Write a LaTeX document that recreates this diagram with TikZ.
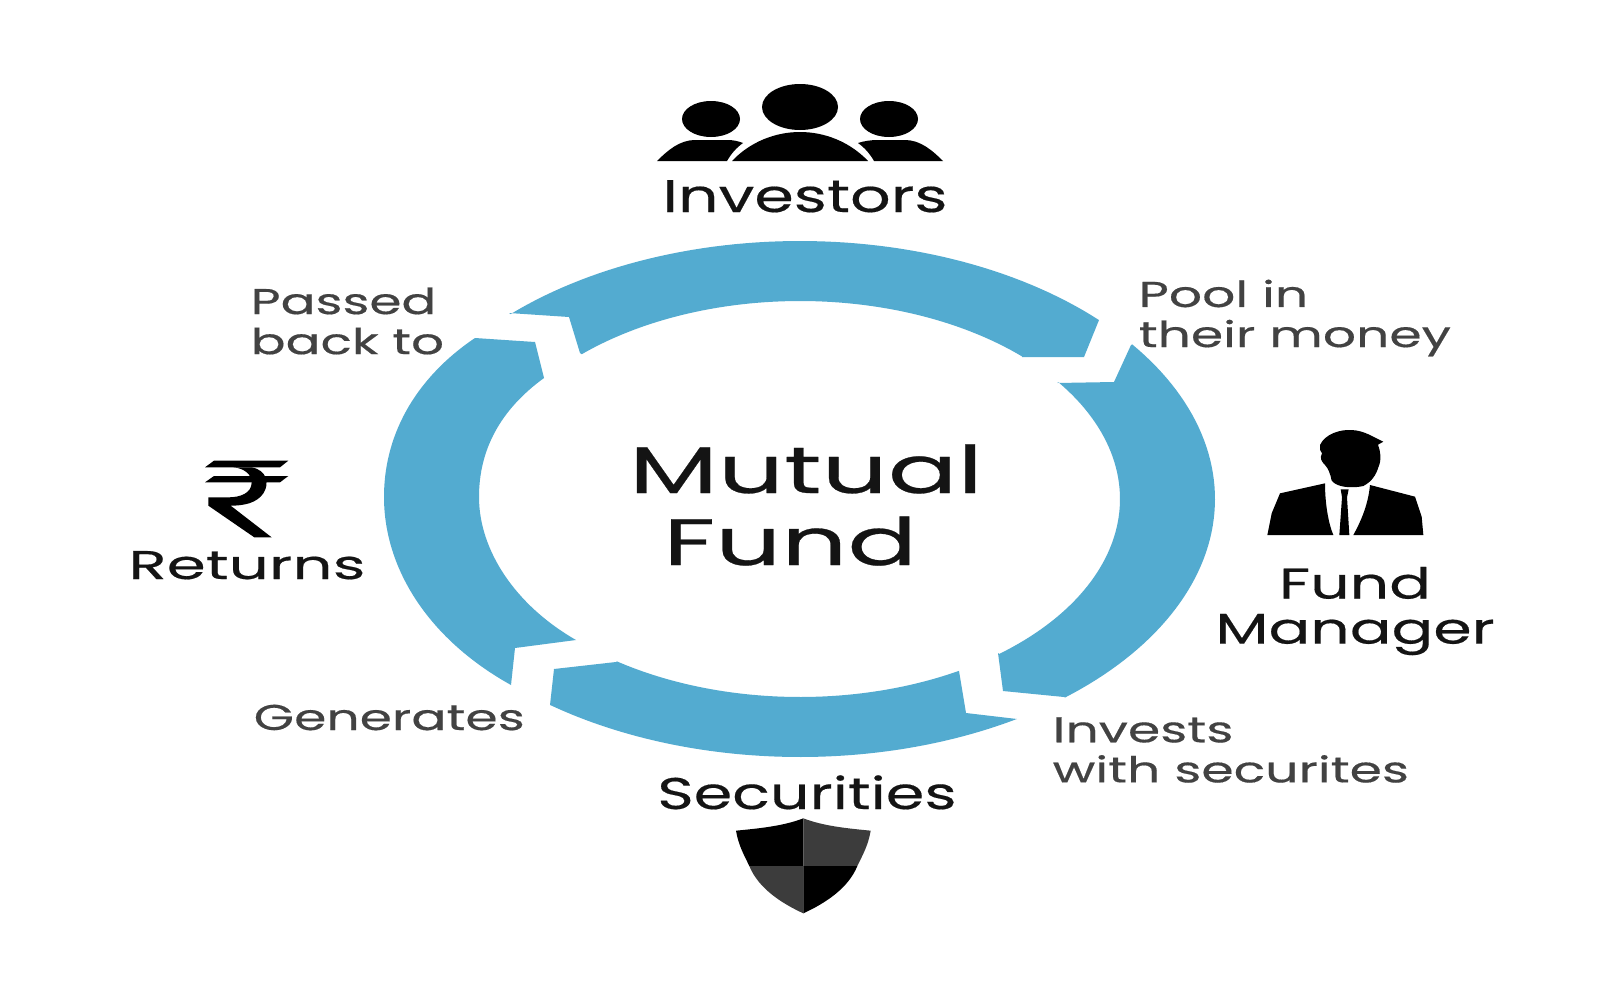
\documentclass[tikz,border=0pt]{standalone}
\usepackage{fontspec}
\setmainfont{Poppins}
\newcommand\labfont[3]{\fontspec{Poppins}[FakeStretch=#1,FakeBold=0.4]\fontsize{#2pt}{#3pt}\selectfont}
\definecolor{ringblue}{RGB}{83,171,208}
\definecolor{labgray}{RGB}{66,66,66}
\definecolor{shieldgray}{RGB}{60,60,60}
\tikzset{
  band/.style={fill=ringblue,draw=none},
  icon/.style={fill=black,draw=none},
  biglabel/.style={inner sep=0pt,text=black!92,align=center},
  smalllabel/.style={inner sep=0pt,text=labgray,align=left}
}
\begin{document}
\begin{tikzpicture}[x=0.01cm,y=-0.01cm]
\fill[white] (0,0) rectangle (1600,1000);
\useasboundingbox (0,0) rectangle (1600,1000);
% ring arrows
\fill[band] (509,313) -- plot[domain=134.2:43.9,samples=60] ({800+415*cos(\x)},{499-258*sin(\x)}) -- (1099,320) -- (1084,357) -- (1022,357) -- plot[domain=45.9:133,samples=60] ({800+320*cos(\x)},{499-198*sin(\x)}) -- (580,353) -- (569,317) -- cycle;
\fill[band] (1131,345) -- plot[domain=36.8:-50.3,samples=60] ({800+415*cos(\x)},{499-258*sin(\x)}) -- (1064,697) -- (1003,691) -- (998,653) -- plot[domain=-51.5:36.1,samples=60] ({800+320*cos(\x)},{499-198*sin(\x)}) -- (1057,383) -- (1114,382) -- cycle;
\fill[band] (1017,719) -- plot[domain=-58.5:-127,samples=60] ({800+415*cos(\x)},{499-258*sin(\x)}) -- (550,705) -- (554,669) -- (616,662) -- plot[domain=-124.9:-60.2,samples=60] ({800+320*cos(\x)},{499-198*sin(\x)}) -- (959,671) -- (966,713) -- cycle;
\fill[band] (511,685) .. controls (430,640) and (384,570) .. (384,497) .. controls (384,430) and (420,375) .. (475,338) -- (535,342) -- (544,378) .. controls (500,410) and (479,450) .. (479,497) .. controls (479,550) and (515,605) .. (576,640) -- (515,648) -- cycle;
% investors icon
\fill[icon] (800,107) ellipse [x radius=38,y radius=23];
\fill[icon] (711,119) ellipse [x radius=29,y radius=18];
\fill[icon] (889,119) ellipse [x radius=29,y radius=18];
\fill[icon] (732,161) .. controls (750,142) and (775,132) .. (800,132) .. controls (825,132) and (850,142) .. (868,161) -- cycle;
\fill[icon] (657,161) .. controls (668,150) and (680,140) .. (695,140) -- (727,140) .. controls (733,140) and (738,141) .. (743,143) .. controls (736,148) and (731,154) .. (727,161) -- cycle;
\fill[icon] (943,161) .. controls (932,150) and (920,140) .. (905,140) -- (878,140) .. controls (871,140) and (864,141) .. (858,143) .. controls (865,148) and (870,154) .. (874,161) -- cycle;
% fund manager icon
\begin{scope}[shift={(1230,410)},x=0.01cm/3,y=-0.01cm/3]
\fill[icon] (270,105) .. controls (285,72) and (330,58) .. (365,60) .. controls (405,62) and (430,82) .. (460,95) -- (444,104) .. controls (452,125) and (455,150) .. (445,172) .. controls (438,195) and (425,215) .. (400,228) .. controls (365,236) and (320,232) .. (305,212) .. controls (302,195) and (295,175) .. (285,165) .. controls (275,155) and (268,145) .. (276,130) .. controls (270,125) and (268,115) .. (270,105) -- cycle;
\fill[icon] (112,375) -- (125,310) -- (150,250) -- (285,220) .. controls (285,280) and (295,340) .. (310,375) -- cycle;
\fill[icon] (420,225) -- (555,260) -- (575,320) -- (580,375) -- (370,375) .. controls (395,330) and (415,280) .. (420,225) -- cycle;
\fill[icon] (332,238) -- (356,238) -- (351,262) -- (358,375) -- (328,375) -- (336,262) -- cycle;
\end{scope}
% rupee icon
\begin{scope}[shift={(120,440)},x=0.01cm/3,y=-0.01cm/3]
\fill[icon] (255,82) -- (282,62) -- (505,62) -- (480,82) -- cycle;
\fill[icon] (255,127) -- (282,108) -- (505,108) -- (480,127) -- cycle;
\fill[icon] (340,82) -- (395,82) .. controls (440,90) and (450,130) .. (430,160) .. controls (410,190) and (370,197) .. (332,197) -- (455,292) -- (403,292) -- (265,197) -- (265,172) -- (325,172) .. controls (360,172) and (395,160) .. (395,127) .. controls (395,105) and (375,85) .. (340,82) -- cycle;
\end{scope}
% shield icon
\begin{scope}[shift={(640,760)},x=0.01cm/3,y=-0.01cm/3]
\fill[black] (490,175) .. controls (430,198) and (360,205) .. (288,212) .. controls (295,255) and (312,285) .. (328,318) -- (490,318) -- cycle;
\fill[shieldgray] (490,175) .. controls (550,198) and (620,205) .. (692,212) .. controls (685,255) and (668,285) .. (652,318) -- (490,318) -- cycle;
\fill[shieldgray] (328,318) .. controls (355,385) and (425,430) .. (490,460) -- (490,318) -- cycle;
\fill[black] (652,318) .. controls (625,385) and (555,430) .. (490,460) -- (490,318) -- cycle;
\end{scope}
% labels
\node[biglabel,anchor=center,font=\labfont{1.57}{18.7}{20.5}] (mf) at (806,505) {Mutual\\Fund\hspace*{9pt}};
\node[biglabel,anchor=base,font=\labfont{1.39}{13}{15}] (inv) at (805,212) {Investors};
\node[biglabel,anchor=base,font=\labfont{1.57}{11.4}{13}] (ret) at (247,579) {Returns};
\node[biglabel,anchor=center,font=\labfont{1.44}{12.2}{12.8}] (fm) at (1355,611) {Fund\\Manager};
\node[biglabel,anchor=base,font=\labfont{1.40}{12.6}{14}] (sec) at (807,809) {Securities};
\node[smalllabel,anchor=west,font=\labfont{1.45}{10.2}{11.4}] (pool) at (1138,318) {Pool in\\their money};
\node[smalllabel,anchor=west,font=\labfont{1.44}{10.2}{11.4}] (pass) at (250,321) {Passed\\back to};
\node[smalllabel,anchor=base west,font=\labfont{1.45}{10.2}{11.4}] (gen) at (253,730) {Generates};
\node[smalllabel,anchor=west,font=\labfont{1.45}{10.2}{11.4}] (invw) at (1052,750) {Invests\\with securites};
\end{tikzpicture}
\end{document}
